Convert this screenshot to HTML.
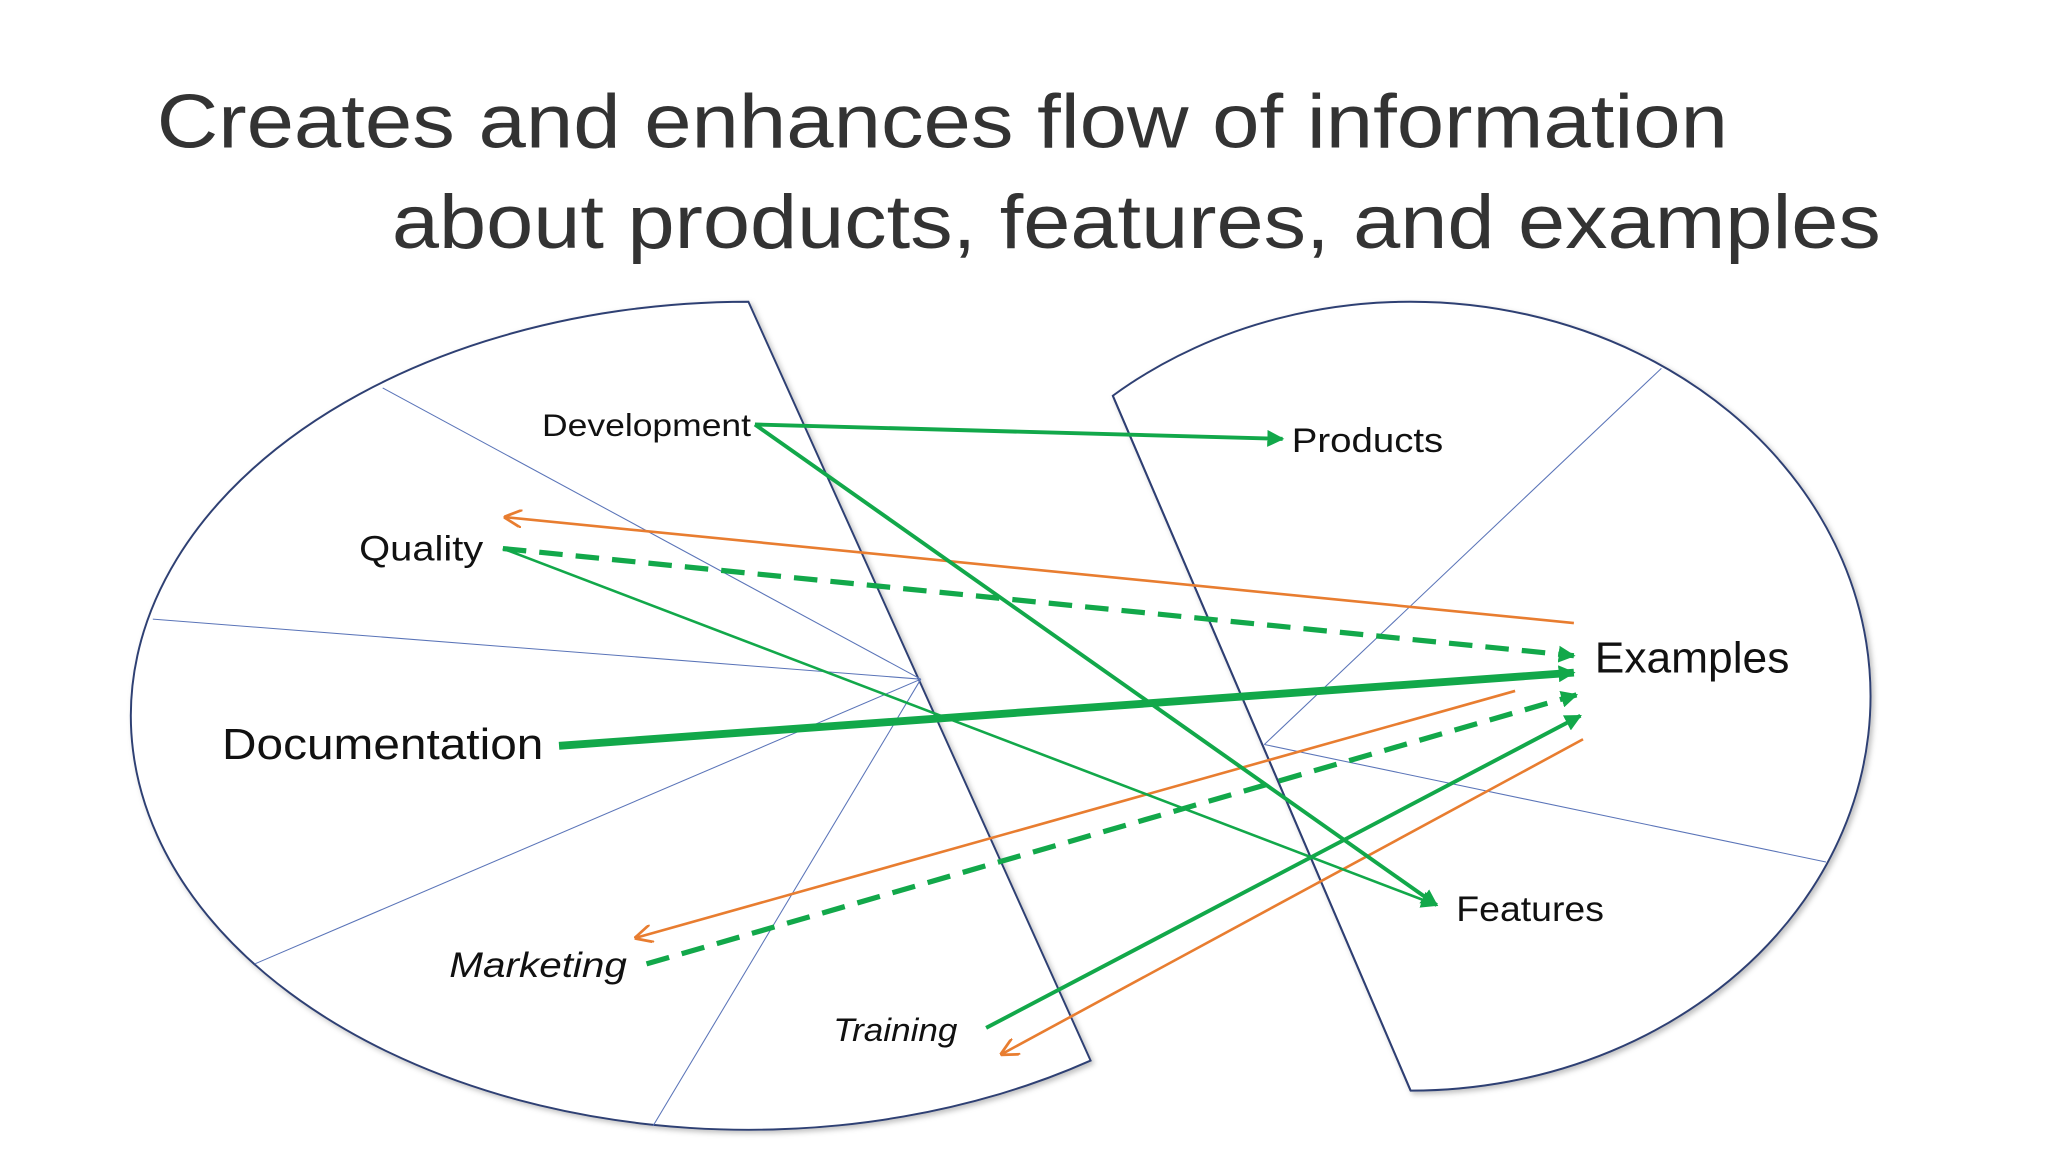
<!DOCTYPE html>
<html><head><meta charset="utf-8"><style>
html,body{margin:0;padding:0;background:#fff;}
svg{display:block;}
text{font-family:"Liberation Sans",sans-serif;fill:#111;}
</style></head><body>
<svg width="2048" height="1152" viewBox="0 0 1568 882" preserveAspectRatio="none" xmlns="http://www.w3.org/2000/svg">
<defs>
<marker id="g" viewBox="0 0 10 10" refX="9" refY="5" markerWidth="13" markerHeight="13" markerUnits="userSpaceOnUse" orient="auto"><path d="M0,0 L10,5 L0,10 Z" fill="#12a84a"/></marker>
<marker id="o" viewBox="0 0 10 10" refX="9" refY="5" markerWidth="14" markerHeight="14" markerUnits="userSpaceOnUse" orient="auto"><path d="M0,0 L10,5 L0,10" fill="none" stroke="#e87d30" stroke-width="1.5"/></marker>
<filter id="sh" x="-5%" y="-5%" width="110%" height="110%"><feDropShadow dx="2" dy="2" stdDeviation="2" flood-color="#000" flood-opacity="0.25"/></filter>
</defs>
<text x="120" y="113" font-size="58" textLength="1203" lengthAdjust="spacingAndGlyphs" style="fill:#333">Creates and enhances flow of information</text>
<text x="300" y="190" font-size="58" textLength="1140" lengthAdjust="spacingAndGlyphs" style="fill:#333">about products, features, and examples</text>

<path d="M573,231 A473,317 0 1 0 835,812 Z" fill="#fff" stroke="#2f3f73" stroke-width="1.5" filter="url(#sh)"/>
<path d="M852,303 A352,302 0 1 1 1080,835 Z" fill="#fff" stroke="#2f3f73" stroke-width="1.5" filter="url(#sh)"/>
<path d="M852,303 L1080,835" stroke="#2f3f73" stroke-width="1.5"/>

<g stroke="#5a74b8" stroke-width="0.8" fill="none">
<line x1="293" y1="297" x2="705" y2="520"/>
<line x1="117" y1="474" x2="705" y2="520"/>
<line x1="195" y1="738" x2="705" y2="520"/>
<line x1="500" y1="862" x2="705" y2="520"/>
<line x1="1272" y1="282" x2="968" y2="570"/>
<line x1="968" y1="570" x2="1398" y2="660"/>
</g>

<g fill="none" stroke="#e87d30" stroke-width="2">
<line x1="1205" y1="477" x2="387" y2="396" marker-end="url(#o)"/>
<line x1="1160" y1="529" x2="487" y2="718" marker-end="url(#o)"/>
<line x1="1212" y1="566" x2="767" y2="807" marker-end="url(#o)"/>
</g>

<g fill="none" stroke="#12a84a">
<line x1="578" y1="325" x2="982" y2="336" stroke-width="3" marker-end="url(#g)"/>
<line x1="578" y1="325" x2="1100" y2="693" stroke-width="3" marker-end="url(#g)"/>
<line x1="385" y1="420" x2="1205" y2="502" stroke-width="4" stroke-dasharray="18,10" marker-end="url(#g)"/>
<line x1="385" y1="420" x2="1100" y2="693" stroke-width="2" marker-end="url(#g)"/>
<line x1="428" y1="571" x2="1205" y2="515" stroke-width="6" marker-end="url(#g)"/>
<line x1="495" y1="738" x2="1207" y2="532" stroke-width="4" stroke-dasharray="18,10" marker-end="url(#g)"/>
<line x1="755" y1="787" x2="1210" y2="548" stroke-width="3" marker-end="url(#g)"/>
</g>

<text x="415" y="334" font-size="24" textLength="160" lengthAdjust="spacingAndGlyphs">Development</text>
<text x="989" y="346" font-size="26" textLength="116" lengthAdjust="spacingAndGlyphs">Products</text>
<text x="275" y="429" font-size="27" textLength="95" lengthAdjust="spacingAndGlyphs">Quality</text>
<text x="1221" y="515" font-size="33" textLength="149" lengthAdjust="spacingAndGlyphs">Examples</text>
<text x="170" y="581" font-size="33" textLength="246" lengthAdjust="spacingAndGlyphs">Documentation</text>
<text x="1115" y="705" font-size="27" textLength="113" lengthAdjust="spacingAndGlyphs">Features</text>
<text x="344" y="748" font-size="27" font-style="italic" textLength="136" lengthAdjust="spacingAndGlyphs">Marketing</text>
<text x="638" y="797" font-size="25" font-style="italic" textLength="95" lengthAdjust="spacingAndGlyphs">Training</text>
</svg>
</body></html>
